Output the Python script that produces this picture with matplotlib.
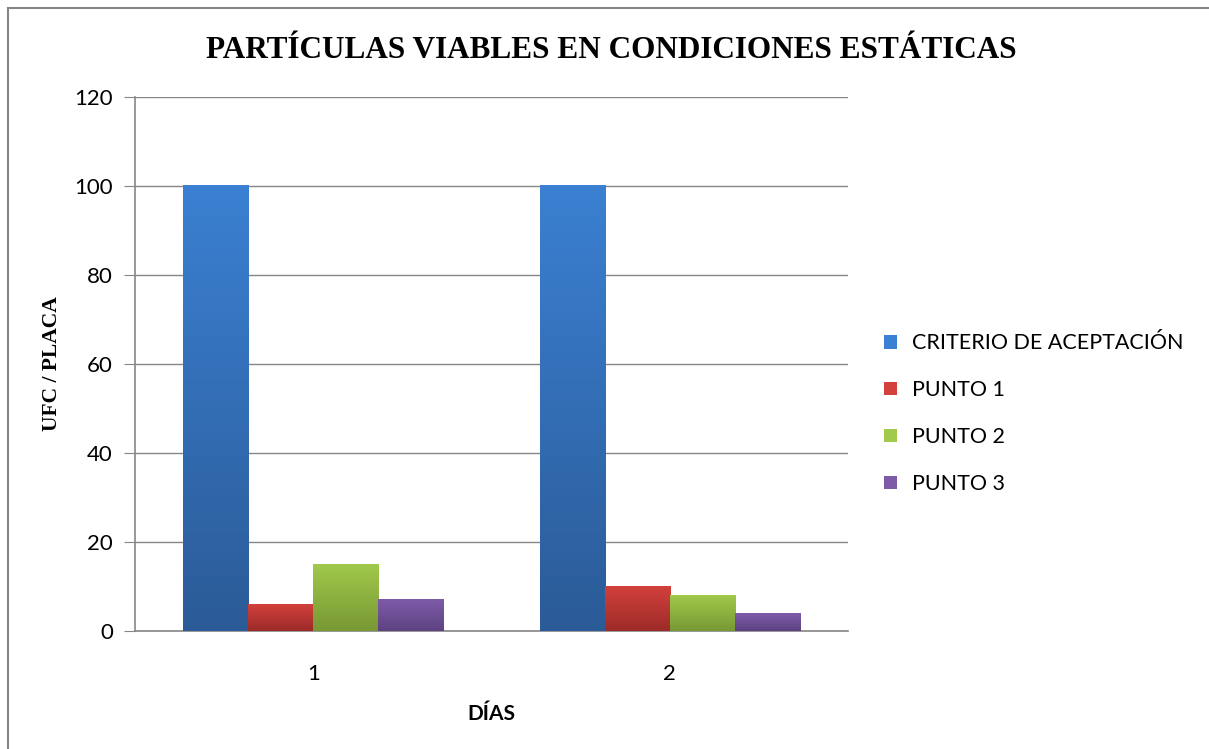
import numpy as np
import matplotlib.pyplot as plt
from matplotlib.colors import LinearSegmentedColormap
from matplotlib.patches import Rectangle

# datos
dias = ['1', '2']
series = ['CRITERIO DE ACEPTACIÓN', 'PUNTO 1', 'PUNTO 2', 'PUNTO 3']
criterio = [100, 100]
punto1 = [6, 10]
punto2 = [15, 8]
punto3 = [7, 4]
valores = [criterio, punto1, punto2, punto3]

# colores (arriba claro, abajo oscuro)
colores = [('#3b80d2', '#2b5b97'),
           ('#d2413c', '#9c2b28'),
           ('#a1c94b', '#789834'),
           ('#7e5ba9', '#5d4281')]

fig = plt.figure(figsize=(12.09, 7.49), dpi=100)
ax = fig.add_axes([0.1117, 0.1575, 0.5897, 0.713])

x = np.arange(len(dias))
ancho = 0.1825
grad = np.linspace(1, 0, 256).reshape(-1, 1)

for i, (nombre, vals, (c_top, c_bot)) in enumerate(zip(series, valores, colores)):
    pos = x + (i - 1.5) * ancho
    barras = ax.bar(pos, vals, width=ancho, color=c_top, label=nombre, zorder=2)
    cmap = LinearSegmentedColormap.from_list(nombre, [c_bot, c_top])
    for b in barras:
        bx, by = b.get_x(), b.get_y()
        bw, bh = b.get_width(), b.get_height()
        ax.imshow(grad, cmap=cmap, extent=[bx, bx + bw, by, by + bh],
                  aspect='auto', zorder=3, origin='upper', vmin=0, vmax=1)

ax.set_xlim(-0.5, 1.5)
ax.set_ylim(0, 120)
ax.set_yticks(range(0, 121, 20))
ax.set_xticks(x)
ax.set_xticklabels(dias)

ax.grid(axis='y', color='#868686', linewidth=1, zorder=0)
for s in ['top', 'right']:
    ax.spines[s].set_visible(False)
for s in ['left', 'bottom']:
    ax.spines[s].set_color('#868686')
    ax.spines[s].set_linewidth(1.2)
ax.tick_params(axis='y', length=8, color='#868686', labelsize=16, pad=8)
ax.tick_params(axis='x', length=0, labelsize=16, pad=24)
for t in ax.get_xticklabels() + ax.get_yticklabels():
    t.set_fontfamily('Lato')

ax.set_xlabel('DÍAS', fontfamily='Lato', fontweight='bold', fontsize=15, labelpad=14)
ax.set_ylabel('UFC / PLACA', fontfamily='Liberation Serif', fontweight='bold',
              fontsize=15.5, labelpad=9)

fig.text(0.506, 0.932, 'PARTÍCULAS VIABLES EN CONDICIONES ESTÁTICAS',
         ha='center', va='center', fontfamily='Liberation Serif',
         fontweight='bold', fontsize=22.5)

leg = ax.legend(loc='center left', bbox_to_anchor=(1.024, 0.407), frameon=False,
                prop={'family': 'Lato', 'size': 15.5}, handlelength=0.6,
                handleheight=0.6, handletextpad=0.7, labelspacing=1.25)
# marco del gráfico
fig.patches.append(Rectangle((8 / 1209, -0.1), 1.2, 1 - 8 / 749 + 0.1,
                             transform=fig.transFigure, fill=False,
                             edgecolor='#868686', linewidth=1.5))

fig.savefig('out.png', dpi=100)
